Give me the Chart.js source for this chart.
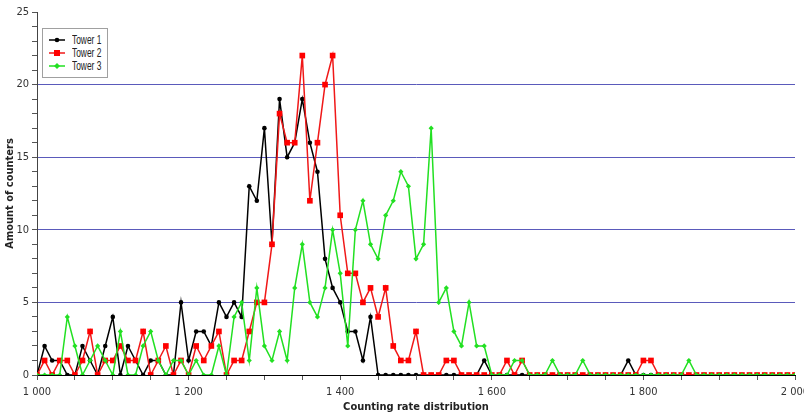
<!DOCTYPE html>
<html>
<head>
<meta charset="utf-8">
<script src="https://cdn.jsdelivr.net/npm/chart.js@4"></script>
<style>
  body { margin: 0; background: #fff; overflow: hidden; }
  #wrap { position: relative; width: 830px; height: 416px; }
  #legend {
    position: absolute; left: 42px; top: 28px; width: 66px; height: 50px;
    border: 1px solid #a0a0a0; background: #fff; padding-top: 4px;
    box-sizing: border-box;
  }
  .item { height: 13px; display: flex; align-items: center; }
  .item svg { margin-left: 6px; flex: none; display: block; }
  .item span {
    font: 12px "Liberation Sans", Arial, sans-serif; color: #222;
    margin-left: 7px; display: inline-block; transform: scaleX(0.7);
    transform-origin: left center; white-space: nowrap;
  }
</style>
</head>
<body>
<div id="wrap">
  <canvas id="rateChart"></canvas>
  <div id="legend"></div>
</div>
<script>
// ================= DATOS =================
const rates = [
  1000, 1010, 1020, 1030, 1040, 1050, 1060, 1070, 1080, 1090,
  1100, 1110, 1120, 1130, 1140, 1150, 1160, 1170, 1180, 1190,
  1200, 1210, 1220, 1230, 1240, 1250, 1260, 1270, 1280, 1290,
  1300, 1310, 1320, 1330, 1340, 1350, 1360, 1370, 1380, 1390,
  1400, 1410, 1420, 1430, 1440, 1450, 1460, 1470, 1480, 1490,
  1500, 1510, 1520, 1530, 1540, 1550, 1560, 1570, 1580, 1590,
  1600, 1610, 1620, 1630, 1640, 1650, 1660, 1670, 1680, 1690,
  1700, 1710, 1720, 1730, 1740, 1750, 1760, 1770, 1780, 1790,
  1800, 1810, 1820, 1830, 1840, 1850, 1860, 1870, 1880, 1890,
  1900, 1910, 1920, 1930, 1940, 1950, 1960, 1970, 1980, 1990,
  2000
];

const tower1 = [
  0, 2, 1, 1, 0, 0, 2, 1, 0, 2,
  4, 0, 2, 1, 0, 1, 1, 0, 0, 5,
  1, 3, 3, 2, 5, 4, 5, 4, 13, 12,
  17, 9, 19, 15, 16, 19, 16, 14, 8, 6,
  5, 3, 3, 1, 4, 0, 0, 0, 0, 0,
  0, 0, 0, 0, 0, 0, 0, 0, 0, 1,
  0, 0, 0, 0, 0, 0, 0, 0, 0, 0,
  0, 0, 0, 0, 0, 0, 0, 0, 1, 0,
  0, 0, 0, 0, 0, 0, 0, 0, 0, 0,
  0, 0, 0, 0, 0, 0, 0, 0, 0, 0,
  0
];

const tower2 = [
  0, 1, 0, 1, 1, 0, 1, 3, 0, 1,
  1, 2, 1, 1, 3, 0, 1, 2, 0, 1,
  0, 2, 1, 2, 3, 0, 1, 1, 3, 5,
  5, 9, 18, 16, 16, 22, 12, 16, 20, 22,
  11, 7, 7, 5, 6, 4, 6, 2, 1, 1,
  3, 0, 0, 0, 1, 1, 0, 0, 0, 0,
  0, 0, 1, 0, 1, 0, 0, 0, 0, 0,
  0, 0, 0, 0, 0, 0, 0, 0, 0, 0,
  1, 1, 0, 0, 0, 0, 0, 0, 0, 0,
  0, 0, 0, 0, 0, 0, 0, 0, 0, 0,
  0
];

const tower3 = [
  0, 0, 0, 0, 4, 2, 0, 1, 2, 1,
  0, 3, 0, 0, 2, 3, 1, 0, 1, 1,
  0, 1, 0, 0, 2, 0, 4, 5, 1, 6,
  2, 1, 3, 1, 6, 9, 5, 4, 6, 10,
  7, 2, 10, 12, 9, 8, 11, 12, 14, 13,
  8, 9, 17, 5, 6, 3, 2, 5, 2, 2,
  0, 0, 0, 1, 1, 0, 0, 0, 1, 0,
  0, 0, 1, 0, 0, 0, 0, 0, 0, 0,
  0, 0, 0, 0, 0, 0, 1, 0, 0, 0,
  0, 0, 0, 0, 0, 0, 0, 0, 0, 0,
  0
];

const seriesNames = ["Tower 1", "Tower 2", "Tower 3"];
const xTitle = "Counting rate distribution";
const yTitle = "Amount of counters";

// ================= ESTILOS =================
const FONT = "'Liberation Sans Narrow', 'DejaVu Sans Condensed', 'Liberation Sans', Arial, sans-serif";
const gridBlue = "#5a5abb";

function toPoints(values) {
  return values.map((v, i) => ({ x: rates[i], y: v }));
}

function spaced(v) {
  return String(v).replace(/\B(?=(\d{3})+(?!\d))/g, " ");
}

const datasets = [
  { label: seriesNames[0], data: toPoints(tower1), borderColor: "#000000", backgroundColor: "#000000",
    pointStyle: "circle", pointRadius: 2.3, order: 3 },
  { label: seriesNames[1], data: toPoints(tower2), borderColor: "#f01818", backgroundColor: "#ff0000",
    pointStyle: "rect", pointRadius: 4, order: 2 },
  { label: seriesNames[2], data: toPoints(tower3), borderColor: "#22e022", backgroundColor: "#22e022",
    pointStyle: "rectRot", pointRadius: 2.6, order: 1 }
];
datasets.forEach(d => {
  d.borderWidth = 1.5;
  d.pointBorderWidth = 0;
  d.tension = 0;
});

// ================= GRÁFICA =================
const ctx = document.getElementById("rateChart");

const rateChart = new Chart(ctx, {
  type: "line",
  data: { datasets: datasets },
  options: {
    responsive: true,
    maintainAspectRatio: false,
    animation: false,
    layout: { padding: { top: 12, right: 35, left: 0, bottom: 0 } },
    plugins: { legend: { display: false }, tooltip: { enabled: false } },
    scales: {
      x: {
        type: "linear",
        min: 1000,
        max: 2000,
        afterFit: s => { s.height = 41; },
        border: { color: "#000", width: 1 },
        grid: { drawOnChartArea: false, tickColor: "#555", tickLength: 5 },
        ticks: {
          stepSize: 50, autoSkip: false, maxRotation: 0, padding: 6,
          color: "#333", font: { family: FONT, size: 11 },
          callback: v => (v % 200 === 0 ? spaced(v) : "")
        },
        title: {
          display: true, text: xTitle, color: "#222",
          font: { family: FONT, size: 11, weight: "bold" },
          padding: { top: 0, bottom: 2 }
        }
      },
      y: {
        min: 0,
        max: 25,
        afterFit: s => { s.width = 37; },
        border: { color: "#444", width: 1 },
        grid: {
          color: c => (c.tick && c.tick.value % 5 === 0 && c.tick.value > 0 && c.tick.value < 25) ? gridBlue : "rgba(0,0,0,0)",
          tickColor: "#555",
          tickLength: 5
        },
        ticks: {
          stepSize: 1, autoSkip: false, padding: 3,
          color: "#333", font: { family: FONT, size: 11 },
          callback: v => (v % 5 === 0 ? String(v) : "")
        },
        title: {
          display: true, text: yTitle, color: "#222",
          font: { family: FONT, size: 11, weight: "bold" },
          padding: { top: 4, bottom: 0 }
        }
      }
    }
  }
});

// ================= LEYENDA =================
function markerSvg(d) {
  const c = d.backgroundColor;
  let mark = "";
  if (d.pointStyle === "circle") {
    mark = `<circle cx="8" cy="4" r="2.3" fill="${c}"/>`;
  } else if (d.pointStyle === "rect") {
    mark = `<rect x="5" y="1" width="6" height="6" fill="${c}"/>`;
  } else {
    mark = `<polygon points="8,1 11,4 8,7 5,4" fill="${c}"/>`;
  }
  return `<svg width="16" height="8" viewBox="0 0 16 8"><line x1="0" y1="4" x2="16" y2="4" stroke="${d.borderColor}" stroke-width="1.5"/>${mark}</svg>`;
}

const legend = document.getElementById("legend");
datasets.forEach(d => {
  const row = document.createElement("div");
  row.className = "item";
  row.innerHTML = markerSvg(d) + `<span>${d.label}</span>`;
  legend.appendChild(row);
});
</script>
</body>
</html>
